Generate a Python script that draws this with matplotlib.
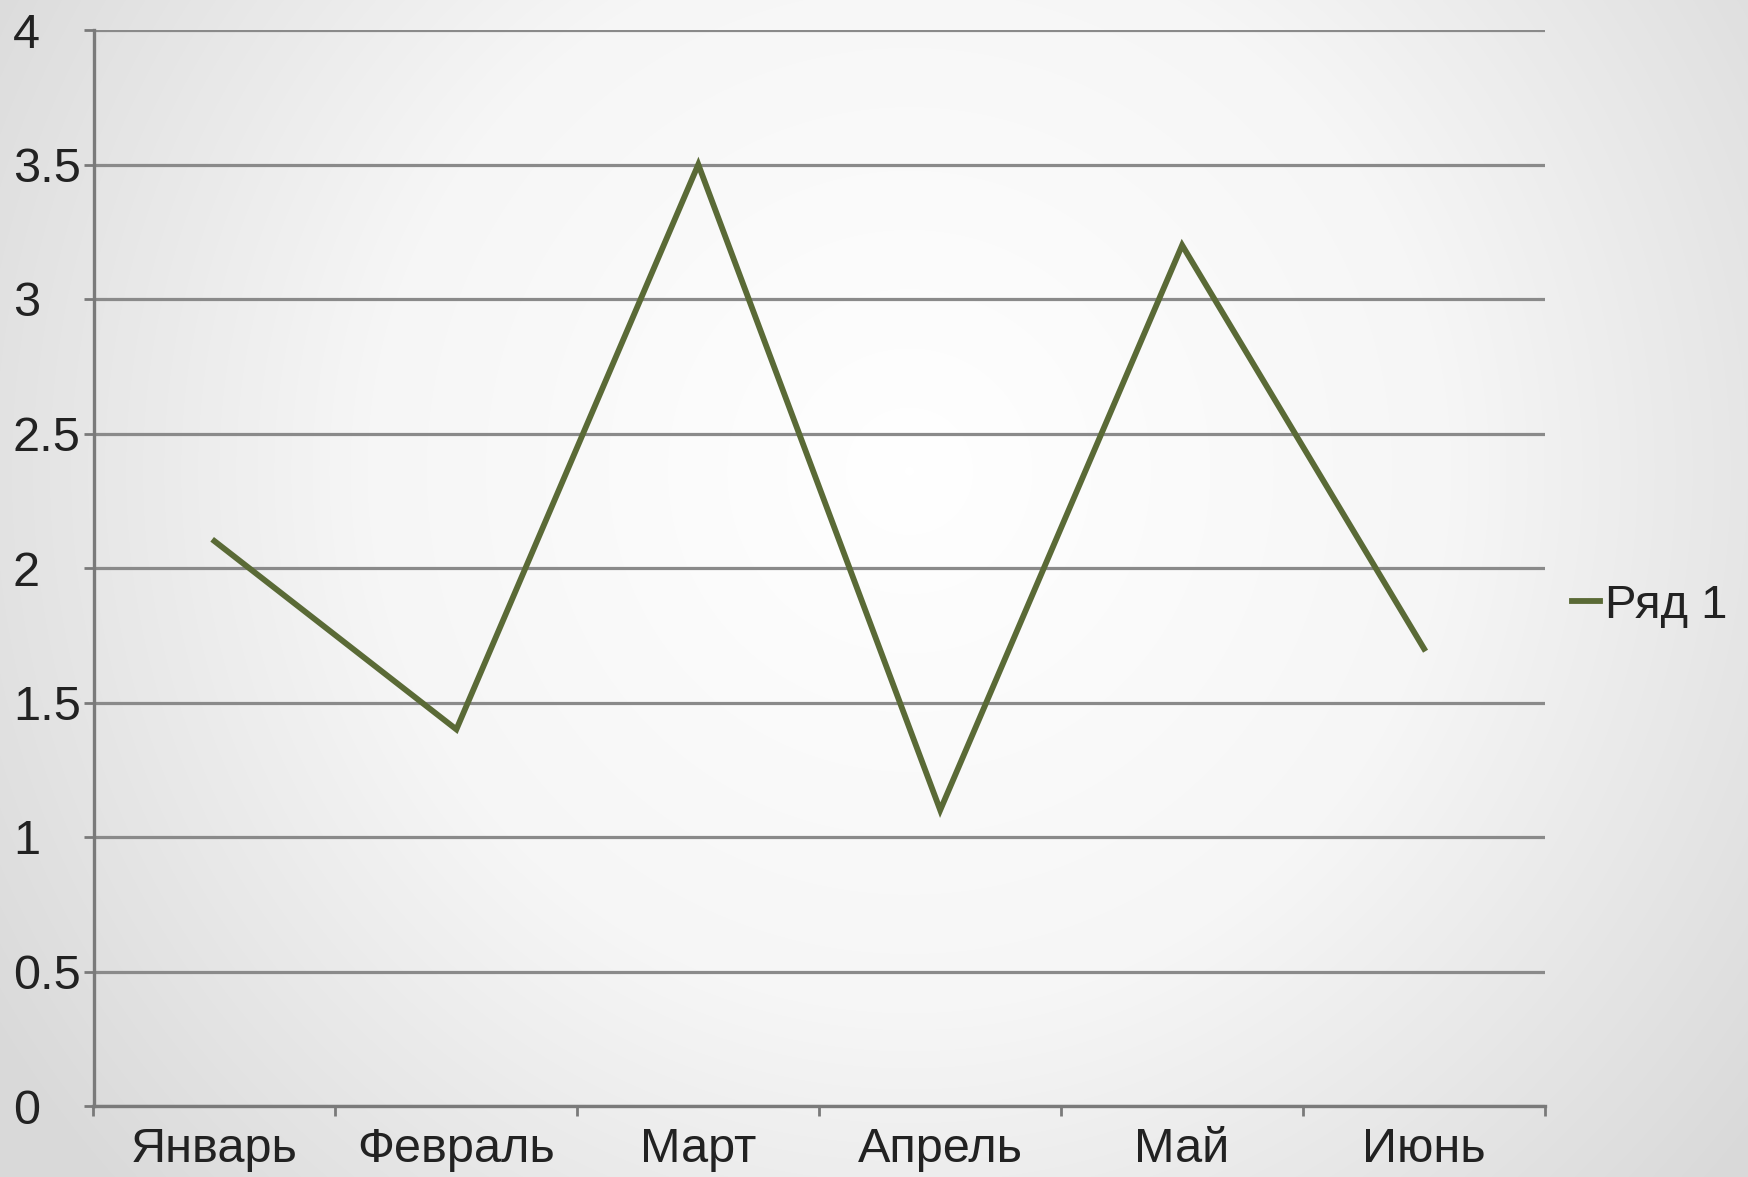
import numpy as np
import matplotlib
matplotlib.use("Agg")
import matplotlib.pyplot as plt
from matplotlib.colors import LinearSegmentedColormap

months = ["Январь", "Февраль", "Март", "Апрель", "Май", "Июнь"]
values = [2.1, 1.4, 3.5, 1.1, 3.2, 1.7]
series_name = "Ряд 1"
yticks = [0, 0.5, 1, 1.5, 2, 2.5, 3, 3.5, 4]
ytick_labels = ["0", "0.5", "1", "1.5", "2", "2.5", "3", "3.5", "4"]

plt.rcParams['font.family'] = ['Liberation Sans', 'DejaVu Sans']

W, H = 1748, 1177
fig = plt.figure(figsize=(W / 100, H / 100), dpi=100)

# radial gradient background
bg = fig.add_axes([0, 0, 1, 1], zorder=-10)
yy, xx = np.mgrid[0:H, 0:W]
cx, cy = 0.52 * W, 0.40 * H
r = np.sqrt(((xx - cx) / (0.62 * W)) ** 2 + ((yy - cy) / (0.62 * W)) ** 2)
r = np.clip(r, 0, 1)
cmap = LinearSegmentedColormap.from_list("bg", ["#ffffff", "#f6f6f6", "#d9d9d9"])
bg.imshow(r, cmap=cmap, vmin=0, vmax=1, aspect='auto', extent=[0, W, H, 0])
bg.axis('off')

left, right, top, bottom = 93.5, 1545, 30, 1106
ax = fig.add_axes([left / W, 1 - bottom / H, (right - left) / W, (bottom - top) / H])
ax.patch.set_alpha(0)

x = np.arange(len(months))
line, = ax.plot(x, values, color="#5A6A36", lw=4.2, solid_joinstyle='miter', label=series_name, zorder=3)

ax.set_xlim(-0.5, len(months) - 0.5)
ax.set_ylim(0, 4)
ax.set_yticks(yticks)
ax.set_yticklabels(ytick_labels)
ax.yaxis.grid(True, color="#8a8a8a", lw=2.3)
ax.set_axisbelow(True)

ax.set_xticks(x)
ax.set_xticklabels(months)
ax.set_xticks(np.arange(-0.5, len(months)), minor=True)
ax.tick_params(axis='x', which='major', length=0, pad=15, labelsize=35, labelcolor="#222222")
ax.tick_params(axis='x', which='minor', length=7, width=2, color="#7a7a7a", direction='out')
ax.tick_params(axis='y', length=7, width=2, color="#7a7a7a", labelsize=35, labelcolor="#222222", pad=51)
for lab in ax.get_yticklabels():
    lab.set_horizontalalignment('left')

for s in ['top', 'right']:
    ax.spines[s].set_visible(False)
for s in ['left', 'bottom']:
    ax.spines[s].set_color("#7a7a7a")
    ax.spines[s].set_linewidth(2.4)

leg = fig.legend(handles=[line], labels=[series_name], loc='center left',
                 bbox_to_anchor=(1572 / W, 1 - 606 / H), frameon=False,
                 fontsize=34, handlelength=0.6, handletextpad=0.1, borderpad=0,
                 borderaxespad=0)
for t in leg.get_texts():
    t.set_color("#222222")

fig.savefig("out.png", dpi=100)
